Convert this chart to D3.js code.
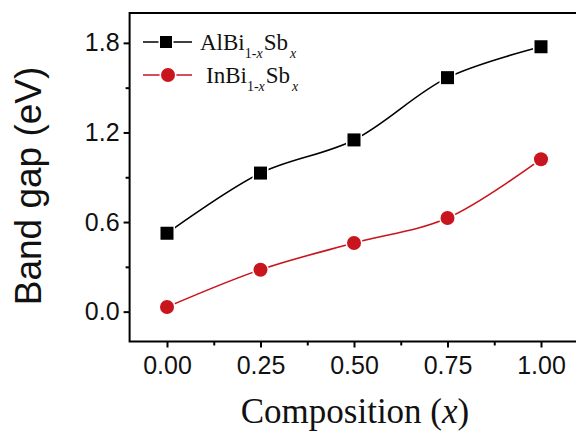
<!DOCTYPE html>
<html>
<head>
<meta charset="utf-8">
<script src="https://cdn.jsdelivr.net/npm/d3@7"></script>
<style>
  body { margin: 0; background: #fff; }
  svg { display: block; }
</style>
</head>
<body>
<svg id="chart" width="576" height="435"></svg>
<script>
// data
const compositions = [0.00, 0.25, 0.50, 0.75, 1.00];
const alBiSb = [0.525, 0.928, 1.15, 1.567, 1.774];
const inBiSb = [0.031, 0.281, 0.46, 0.627, 1.021];
const xTicks = [0, 0.25, 0.5, 0.75, 1.0];
const xMinorTicks = [0.125, 0.375, 0.625, 0.875];
const yTicks = [0, 0.6, 1.2, 1.8];
const yMinorTicks = [0.3, 0.9, 1.5];

const RED = "#c9151e";

let svg = d3.select("#chart");

let x = d3.scaleLinear().domain([-0.1, 1.1]).range([129.6, 578.4]);
let y = d3.scaleLinear().domain([-0.2, 2.0]).range([341.5, 13]);

// frame
svg.append("rect")
  .attr("x", x(-0.1)).attr("y", y(2.0))
  .attr("width", x(1.1) - x(-0.1)).attr("height", y(-0.2) - y(2.0))
  .attr("fill", "none").attr("stroke", "#000").attr("stroke-width", 2);

// axes: major ticks with labels, minor ticks without
svg.append("g")
  .attr("transform", "translate(0," + y(-0.2) + ")")
  .call(d3.axisBottom(x).tickValues(xTicks).tickSize(6).tickPadding(9).tickFormat(d3.format(".2f")));
svg.append("g")
  .attr("transform", "translate(0," + y(-0.2) + ")")
  .call(d3.axisBottom(x).tickValues(xMinorTicks).tickSize(4).tickFormat(""));

svg.append("g")
  .attr("transform", "translate(" + x(-0.1) + ",0)")
  .call(d3.axisLeft(y).tickValues(yTicks).tickSize(6).tickPadding(4).tickFormat(d3.format(".1f")));
svg.append("g")
  .attr("transform", "translate(" + x(-0.1) + ",0)")
  .call(d3.axisLeft(y).tickValues(yMinorTicks).tickSize(4).tickFormat(""));

svg.selectAll(".domain").remove();
svg.selectAll(".tick line").attr("stroke", "#000").attr("stroke-width", 2);
svg.selectAll(".tick text")
  .attr("fill", "#111")
  .style("font-family", "'Liberation Sans', Arial, sans-serif")
  .style("font-size", "25px");

// axis titles
svg.append("text")
  .attr("transform", "translate(41,186) rotate(-90)")
  .attr("text-anchor", "middle")
  .style("font-family", "'Liberation Sans', Arial, sans-serif")
  .style("font-size", "37px")
  .attr("fill", "#111")
  .text("Band gap (eV)");

let xTitle = svg.append("text")
  .attr("x", 355).attr("y", 423)
  .attr("text-anchor", "middle")
  .style("font-family", "'Liberation Serif', 'Times New Roman', serif")
  .style("font-size", "35px")
  .attr("fill", "#111");
xTitle.append("tspan").text("Composition (");
xTitle.append("tspan").style("font-style", "italic").text("x");
xTitle.append("tspan").text(")");

// series
let line = d3.line()
  .x(function(d, i) { return x(compositions[i]); })
  .y(function(d) { return y(d); })
  .curve(d3.curveCatmullRom.alpha(0.5));

svg.append("path").datum(alBiSb)
  .attr("d", line).attr("fill", "none").attr("stroke", "#000").attr("stroke-width", 1.6);
svg.append("path").datum(inBiSb)
  .attr("d", line).attr("fill", "none").attr("stroke", RED).attr("stroke-width", 1.6);

svg.selectAll(".sq").data(alBiSb).enter().append("rect")
  .attr("x", function(d, i) { return x(compositions[i]) - 6.5; })
  .attr("y", function(d) { return y(d) - 6.5; })
  .attr("width", 13).attr("height", 13)
  .attr("fill", "#000").attr("stroke", "#fff").attr("stroke-width", 3)
  .attr("paint-order", "stroke");

svg.selectAll(".dot").data(inBiSb).enter().append("circle")
  .attr("cx", function(d, i) { return x(compositions[i]); })
  .attr("cy", function(d) { return y(d); })
  .attr("r", 7)
  .attr("fill", RED).attr("stroke", "#fff").attr("stroke-width", 3)
  .attr("paint-order", "stroke");

// legend
let legend = [
  {name: "AlBi", color: "#000", shape: "square", y: 42, tx: 200},
  {name: "InBi", color: RED, shape: "circle", y: 75, tx: 206}
];

legend.forEach(function(item) {
  let g = svg.append("g");
  g.append("line")
    .attr("x1", 143).attr("x2", 192).attr("y1", item.y).attr("y2", item.y)
    .attr("stroke", item.color).attr("stroke-width", 1.6);
  if (item.shape === "square") {
    g.append("rect").attr("x", 160).attr("y", item.y - 6).attr("width", 12).attr("height", 12)
      .attr("fill", item.color).attr("stroke", "#fff").attr("stroke-width", 3).attr("paint-order", "stroke");
  } else {
    g.append("circle").attr("cx", 168).attr("cy", item.y).attr("r", 7)
      .attr("fill", item.color).attr("stroke", "#fff").attr("stroke-width", 3).attr("paint-order", "stroke");
  }
  let t = g.append("text")
    .attr("x", item.tx).attr("y", item.y + 8)
    .style("font-family", "'Liberation Serif', 'Times New Roman', serif")
    .style("font-size", "23px")
    .attr("fill", "#111");
  t.append("tspan").text(item.name);
  t.append("tspan").attr("dy", 8).style("font-size", "14px").text("1-");
  t.append("tspan").style("font-size", "14px").style("font-style", "italic").text("x");
  t.append("tspan").attr("dy", -8).attr("dx", 1).text("Sb");
  t.append("tspan").attr("dy", 8).attr("dx", 2).style("font-size", "14px").style("font-style", "italic").text("x");
});
</script>
</body>
</html>
